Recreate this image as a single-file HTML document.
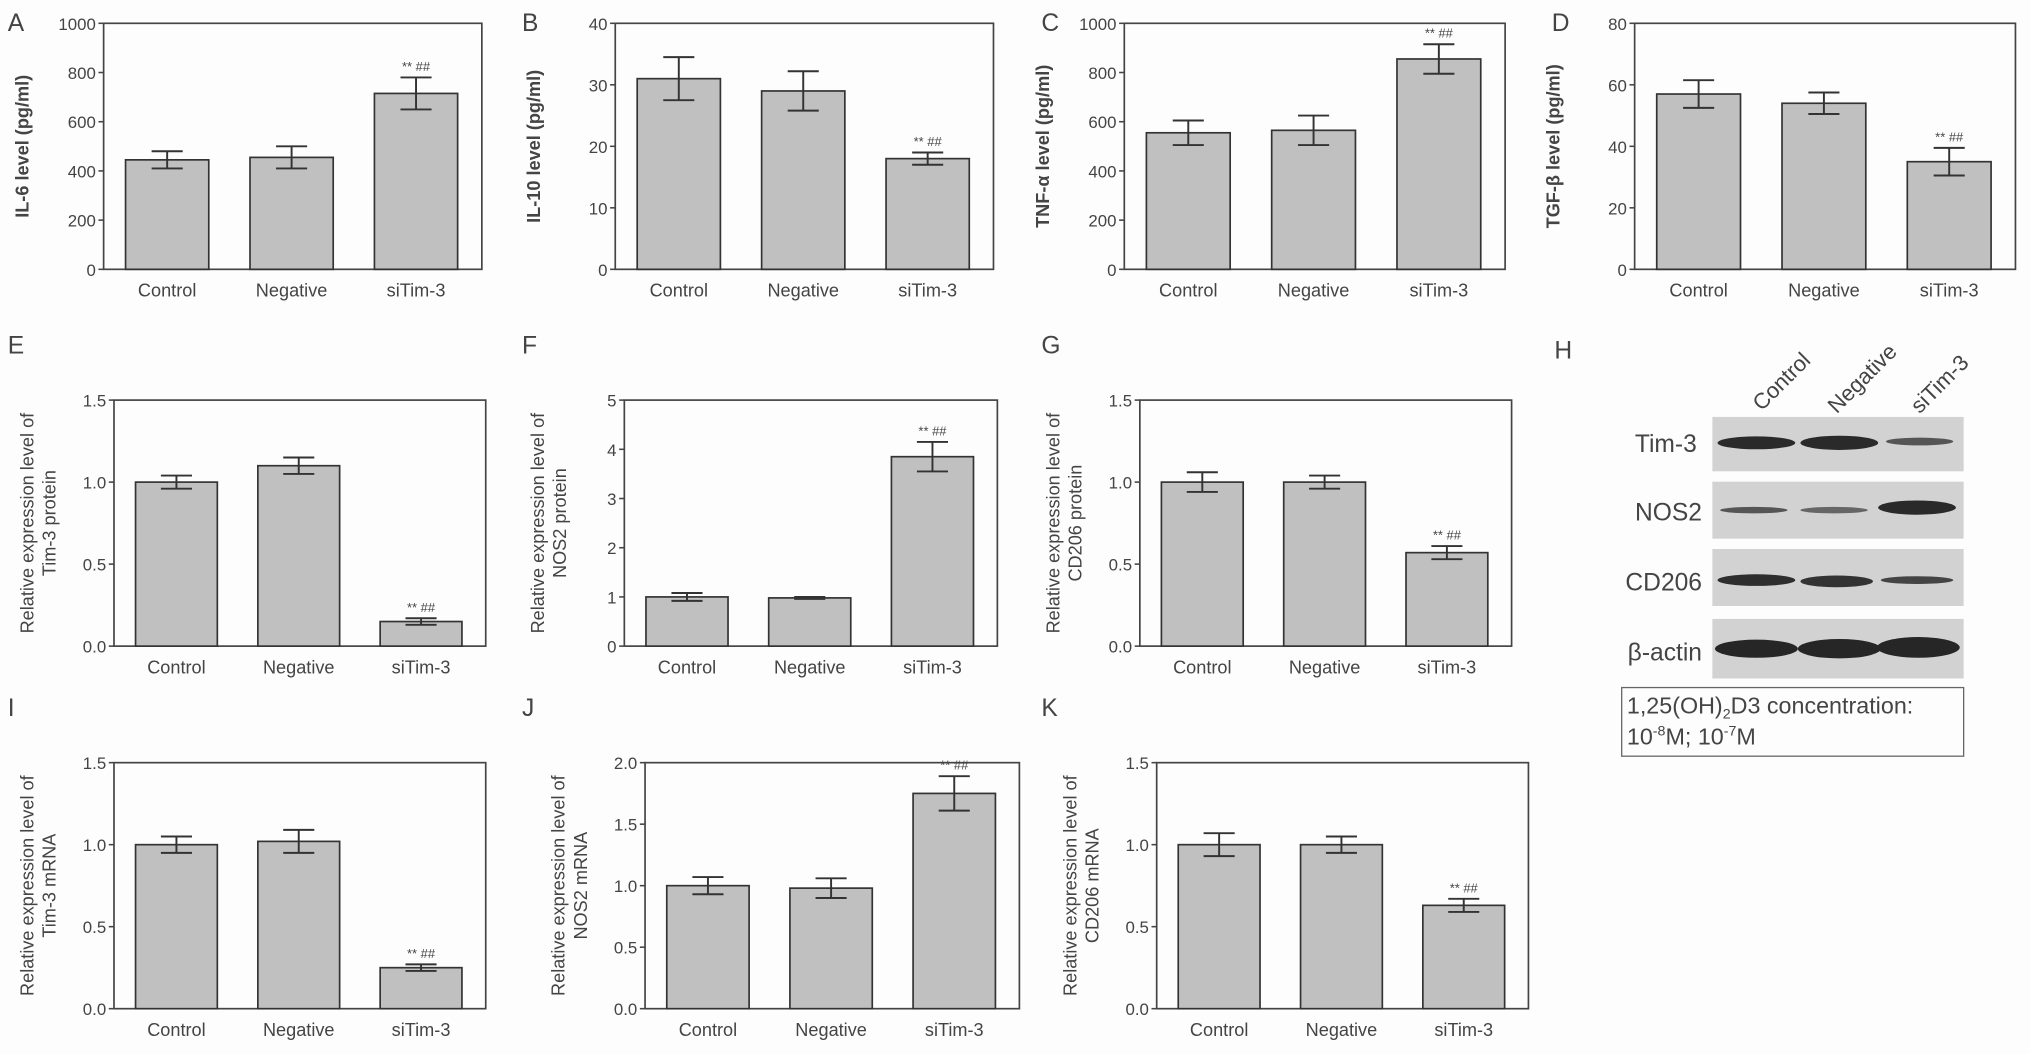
<!DOCTYPE html>
<html><head><meta charset="utf-8"><style>
html,body{margin:0;padding:0;background:#fff;}
svg{display:block;font-family:"Liberation Sans",Arial,sans-serif;}
</style></head><body>
<svg id="fig" width="2031" height="1054" viewBox="0 0 1568 814" preserveAspectRatio="none" xmlns="http://www.w3.org/2000/svg">
<rect x="0" y="0" width="1568" height="814" fill="#fdfdfd"/>
<g>
<text x="1200" y="277" font-size="19" fill="#444">H</text>
<text transform="translate(1360,318) rotate(-45)" font-size="17" fill="#444">Control</text>
<text transform="translate(1418,320) rotate(-45)" font-size="17" fill="#444">Negative</text>
<text transform="translate(1482,320) rotate(-45)" font-size="17" fill="#444">siTim-3</text>
<g>
<rect x="1322" y="322" width="194" height="42" fill="#d2d2d2"/>
<text x="1310" y="349" font-size="19" fill="#444" text-anchor="end">Tim-3</text>
<ellipse cx="1356" cy="342" rx="30" ry="5" fill="#2a2a2a"/><ellipse cx="1420" cy="342" rx="30" ry="5.5" fill="#2a2a2a"/><ellipse cx="1482" cy="341" rx="26" ry="3" fill="#555"/>
</g>
<g>
<rect x="1322" y="372" width="194" height="44" fill="#d2d2d2"/>
<text x="1314" y="402" font-size="19" fill="#444" text-anchor="end">NOS2</text>
<ellipse cx="1354" cy="394" rx="26" ry="2.5" fill="#555"/><ellipse cx="1416" cy="394" rx="26" ry="2.5" fill="#666"/><ellipse cx="1480" cy="392" rx="30" ry="5.5" fill="#2a2a2a"/>
</g>
<g>
<rect x="1322" y="424" width="194" height="44" fill="#d2d2d2"/>
<text x="1314" y="456" font-size="19" fill="#444" text-anchor="end">CD206</text>
<ellipse cx="1356" cy="448" rx="30" ry="4.5" fill="#2e2e2e"/><ellipse cx="1418" cy="449" rx="28" ry="4.5" fill="#333"/><ellipse cx="1480" cy="448" rx="28" ry="3" fill="#444"/>
</g>
<g>
<rect x="1322" y="478" width="194" height="46" fill="#d2d2d2"/>
<text x="1314" y="510" font-size="19" fill="#444" text-anchor="end">β-actin</text>
<ellipse cx="1356" cy="501" rx="32" ry="7" fill="#262626"/><ellipse cx="1420" cy="501" rx="32" ry="7.5" fill="#262626"/><ellipse cx="1481" cy="500" rx="32" ry="8" fill="#262626"/>
</g>
<g>
<rect x="1252" y="531" width="264" height="53" fill="none" stroke="#666" stroke-width="1"/>
<text x="1256" y="551" font-size="18" fill="#444">1,25(OH)<tspan font-size="11" dy="4">2</tspan><tspan dy="-4">D3 concentration:</tspan></text>
<text x="1256" y="575" font-size="18" fill="#444">10<tspan font-size="11" dy="-7">-8</tspan><tspan dy="7">M; 10</tspan><tspan font-size="11" dy="-7">-7</tspan><tspan dy="7">M</tspan></text>
</g>
</g>
</svg>
<script>
const categories = ["Control","Negative","siTim-3"];
const valsA=[445,455,715], errA=[35,45,65];
const valsB=[31,29,18], errB=[3.5,3.2,1];
const valsC=[555,565,855], errC=[50,60,60];
const valsD=[57,54,35], errD=[4.5,3.5,4.5];
const valsE=[1.0,1.1,0.15], errE=[0.04,0.05,0.02];
const valsF=[1.0,0.98,3.85], errF=[0.08,0.02,0.3];
const valsG=[1.0,1.0,0.57], errG=[0.06,0.04,0.04];
const valsI=[1.0,1.02,0.25], errI=[0.05,0.07,0.02];
const valsJ=[1.0,0.98,1.75], errJ=[0.07,0.08,0.14];
const valsK=[1.0,1.0,0.63], errK=[0.07,0.05,0.04];
const ticksA=["0","200","400","600","800","1000"];
const ticksB=["0","10","20","30","40"];
const ticksD=["0","20","40","60","80"];
const ticks15=["0.0","0.5","1.0","1.5"];
const ticksF=["0","1","2","3","4","5"];
const ticksJ=["0.0","0.5","1.0","1.5","2.0"];

const NS="http://www.w3.org/2000/svg";
const svg=document.getElementById('fig');
function mk(tag,attrs,parent){const e=document.createElementNS(NS,tag);for(const k in attrs)e.setAttribute(k,attrs[k]);parent.appendChild(e);return e;}

const panels=[
 {id:'a',L:'A',x:80,y:18,w:292,h:190,max:1000,ticks:ticksA,vals:valsA,err:errA,t:["IL-6 level (pg/ml)"],lx:6},
 {id:'b',L:'B',x:475,y:18,w:292,h:190,max:40,ticks:ticksB,vals:valsB,err:errB,t:["IL-10 level (pg/ml)"],lx:403},
 {id:'c',L:'C',x:868,y:18,w:294,h:190,max:1000,ticks:ticksA,vals:valsC,err:errC,t:["TNF-α level (pg/ml)"],lx:804},
 {id:'d',L:'D',x:1262,y:18,w:294,h:190,max:80,ticks:ticksD,vals:valsD,err:errD,t:["TGF-β level (pg/ml)"],lx:1198},
 {id:'e',L:'E',x:88,y:309,w:287,h:190,max:1.5,ticks:ticks15,vals:valsE,err:errE,t:["Relative expression level of","Tim-3 protein"],lx:6},
 {id:'f',L:'F',x:482,y:309,w:288,h:190,max:5,ticks:ticksF,vals:valsF,err:errF,t:["Relative expression level of","NOS2 protein"],lx:403},
 {id:'g',L:'G',x:880,y:309,w:287,h:190,max:1.5,ticks:ticks15,vals:valsG,err:errG,t:["Relative expression level of","CD206 protein"],lx:804},
 {id:'i',L:'I',x:88,y:589,w:287,h:190,max:1.5,ticks:ticks15,vals:valsI,err:errI,t:["Relative expression level of","Tim-3 mRNA"],lx:6},
 {id:'j',L:'J',x:498,y:589,w:289,h:190,max:2,ticks:ticksJ,vals:valsJ,err:errJ,t:["Relative expression level of","NOS2 mRNA"],lx:403},
 {id:'k',L:'K',x:893,y:589,w:287,h:190,max:1.5,ticks:ticks15,vals:valsK,err:errK,t:["Relative expression level of","CD206 mRNA"],lx:804},
];
const fr=[0.168,0.497,0.826];
panels.forEach(p=>{
  const g=mk('g',{},svg);
  
  
  const yS=v=>p.y+p.h-v/p.max*p.h;
  const xS=i=>p.x+fr[i]*p.w;
  const lab=mk('text',{x:p.lx,y:p.y+(p.t.length>1?-36:6),'font-size':19,fill:'#444'},g);
  lab.textContent=p.L;
  
  
  mk('rect',{x:p.x,y:p.y,width:p.w,height:p.h,fill:'none',stroke:'#444','stroke-width':1.3},g);
  p.ticks.forEach(t=>{
    const v=parseFloat(t), y=yS(v);
    mk('line',{x1:p.x-4,x2:p.x,y1:y,y2:y,stroke:'#444','stroke-width':1.2},g);
    const tx=mk('text',{x:p.x-6,y:y+5,'font-size':13,fill:'#444','text-anchor':'end'},g);
    tx.textContent=t;
    
    
  });
  p.t.forEach((line,k)=>{
    const xx=(p.t.length>1)?p.x-62+k*17:p.x-58;
    const tt=mk('text',{transform:`translate(${xx},${p.y+p.h/2}) rotate(-90)`,'font-size':14,'font-weight':p.t.length>1?'normal':'bold',fill:'#444','text-anchor':'middle'},g);
    tt.textContent=line;
    
    
  });
  const bw=p.w*0.22;
  p.vals.forEach((v,i)=>{
    const x=xS(i), y=yS(v);
    const r=mk('rect',{x:x-bw/2,y:y,width:bw,height:p.y+p.h-y,fill:'#c0c0c0',stroke:'#333','stroke-width':1.3},g);
    
    
    const e=p.err[i], y1=yS(v+e), y2=yS(v-e);
    const eg=mk('g',{stroke:'#333','stroke-width':1.5},g);
    
    
    mk('line',{x1:x,x2:x,y1:y1,y2:y2},eg);
    mk('line',{x1:x-12,x2:x+12,y1:y1,y2:y1},eg);
    mk('line',{x1:x-12,x2:x+12,y1:y2,y2:y2},eg);
    mk('line',{x1:x,x2:x,y1:p.y+p.h,y2:p.y+p.h+5},g);
    const cl=mk('text',{x:x,y:p.y+p.h+21,'font-size':14,fill:'#444','text-anchor':'middle'},g);
    cl.textContent=categories[i];
    
    
    if(i===2){
      const s=mk('text',{x:x,y:y1-5,'font-size':10,fill:'#444','text-anchor':'middle'},g);
      s.textContent='** ##';
      
      
    }
  });
});
</script>
</body></html>
